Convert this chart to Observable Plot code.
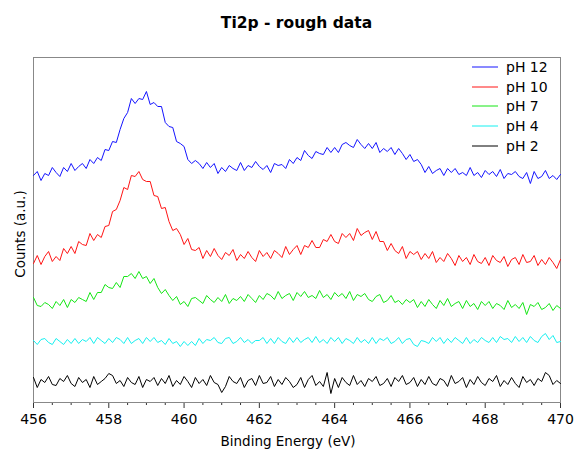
<!DOCTYPE html>
<html>
<head>
<meta charset="utf-8">
<script src="https://cdn.jsdelivr.net/npm/d3@7"></script>
<script src="https://cdn.jsdelivr.net/npm/@observablehq/plot@0.6"></script>
<style>
  html, body { margin: 0; padding: 0; background: #fff; }
  #wrap { position: relative; width: 574px; height: 449px; font-family: "DejaVu Sans", sans-serif; }
  #title { height: 40px; line-height: 46px; padding: 0 14px 0 33px; text-align: center; font-weight: bold; font-size: 15.5px; color: #000; box-sizing: border-box; }
  #legend { position: absolute; top: 57px; left: 470px; font-size: 14px; color: #000; }
  #legend .row { display: flex; align-items: center; height: 19.75px; }
  #legend svg { width: 30px; height: 4px; margin-right: 6px; }
  svg.plot { display: block; }
</style>
</head>
<body>
<div id="wrap">
  <div id="title">Ti2p - rough data</div>
  <div id="chart"></div>
  <div id="legend"></div>
</div>
<script>
const seriesNames = ["pH 12", "pH 10", "pH 7", "pH 4", "pH 2"];
const seriesColors = ["#1414ff", "#ff1414", "#14e614", "#14f0f0", "#000000"];
const xTicks = [456, 458, 460, 462, 464, 466, 468, 470];
const xMinorTicks = [456.5, 457, 457.5, 458.5, 459, 459.5, 460.5, 461, 461.5, 462.5, 463, 463.5, 464.5, 465, 465.5, 466.5, 467, 467.5, 468.5, 469, 469.5];
const xLabel = "Binding Energy (eV)";
const yLabel = "Counts (a.u.)";

// sampling grid: 456.0 .. 470.0 eV, 0.1 eV steps
const energy = d3.range(141).map(i => +(456 + i * 0.1).toFixed(1));

const pH12 = [
225,229,220,227,225,233,228,224,233,229,
237,230,234,237,232,241,237,243,240,251,
250,259,258,271,282,288,302,297,302,301,
309,296,298,294,294,278,274,273,259,257,
254,241,237,240,237,232,238,233,237,227,
233,229,235,232,230,238,230,235,233,239,
234,231,235,228,237,235,236,232,241,237,
243,240,250,245,242,249,247,246,253,248,
253,248,256,258,255,253,261,256,252,257,
252,258,248,252,249,253,246,252,247,241,
246,239,241,236,228,234,227,230,232,225,
232,228,232,226,228,225,233,225,228,223,
230,226,229,224,231,222,227,226,229,224,
222,228,217,229,222,224,230,222,225,221,
226];

const pH10 = [
137,145,136,144,149,139,144,140,152,147,
154,147,159,156,155,167,160,166,163,174,
175,189,191,200,213,211,225,224,229,221,
219,219,205,204,192,193,179,170,172,166,
156,162,151,150,153,142,150,144,152,145,
141,148,145,151,140,146,142,149,143,139,
150,144,148,142,150,147,143,154,146,151,
155,146,155,153,160,153,153,161,159,166,
159,157,167,163,167,160,172,165,168,170,
161,169,159,159,150,157,150,147,154,142,
149,146,149,141,147,142,149,138,143,139,
147,142,135,145,139,143,136,146,139,137,
143,135,145,140,138,144,134,141,143,136,
146,138,139,145,135,141,136,143,138,132,
141];

const pH7 = [
103,95,94,98,96,92,99,95,101,93,
101,98,103,101,99,108,101,108,108,116,
113,112,118,113,124,124,127,122,129,122,
124,117,122,113,107,111,105,100,104,96,
99,94,102,103,100,97,105,101,98,103,
99,106,97,102,100,104,99,106,102,98,
105,101,107,105,101,109,102,105,107,100,
108,104,109,103,105,102,110,103,106,101,
108,104,107,102,109,100,106,104,107,101,
99,104,106,98,100,105,98,100,96,101,
98,101,93,99,94,101,96,92,100,95,
102,94,97,99,92,100,94,97,91,99,
95,99,92,97,95,91,100,93,96,92,
98,86,96,94,98,91,93,97,90,95,
92];

const pH4 = [
60,56,61,62,58,56,62,59,56,61,
57,62,57,61,59,63,57,63,60,57,
62,58,63,61,57,63,57,60,62,57,
63,59,63,58,60,56,62,57,59,54,
59,55,59,55,62,57,61,60,63,58,
57,62,63,57,59,63,58,61,57,60,
60,63,57,62,57,63,59,57,63,58,
63,58,61,63,58,64,58,61,57,63,
59,63,57,62,60,57,63,58,61,57,
63,57,62,60,63,57,59,63,57,61,
62,56,54,60,59,57,63,59,63,57,
62,58,63,60,57,63,57,61,58,63,
60,58,63,58,64,61,62,58,64,59,
63,58,64,60,58,64,67,61,65,58,
59];

const pH2 = [
23,13,21,18,24,16,15,22,19,25,
17,14,23,18,21,13,24,16,19,22,
27,25,17,20,14,23,18,16,24,13,
21,19,23,15,22,17,25,14,20,16,
24,19,13,23,17,21,15,25,18,16,
8,14,24,19,17,23,13,20,22,15,
25,17,18,24,14,21,16,23,19,13,
16,23,13,21,25,15,19,14,28,7,
22,13,23,18,15,25,16,20,14,22,
19,24,15,17,22,14,23,19,25,16,
18,23,14,21,16,24,17,15,22,20,
14,25,17,19,23,13,21,16,24,18,
15,22,19,25,14,20,16,23,17,13,
24,18,21,15,22,19,28,25,16,20,
17];

const seriesValues = [pH12, pH10, pH7, pH4, pH2];
const rows = [];
seriesNames.forEach((name, s) => {
  seriesValues[s].forEach((v, i) => rows.push({series: name, energy: energy[i], counts: v}));
});

const chart = Plot.plot({
  width: 574,
  height: 409,
  marginTop: 17,
  marginBottom: 47,
  marginLeft: 33,
  marginRight: 14,
  x: {domain: [456, 470]},
  y: {domain: [-2, 343], axis: null},
  color: {domain: seriesNames, range: seriesColors},
  style: {fontFamily: "DejaVu Sans", fontSize: "14px", color: "#000", background: "#fff", overflow: "visible"},
  marks: [
    Plot.axisX(xMinorTicks, {tickSize: 3, tickFormat: () => "", label: null, stroke: "#333"}),
    Plot.axisX(xTicks, {tickSize: 6, tickPadding: 6, label: null, tickFormat: d => String(d), stroke: "#333", fontSize: 14}),
    Plot.frame({stroke: "#888"}),
    Plot.line(rows, {x: "energy", y: "counts", z: "series", stroke: "series", strokeWidth: 1}),
    Plot.text([xLabel], {frameAnchor: "bottom", lineAnchor: "middle", textAnchor: "middle", dx: -9, dy: 39, text: d => d, fontSize: 13.5}),
    Plot.text([yLabel], {frameAnchor: "left", textAnchor: "middle", lineAnchor: "middle", rotate: -90, dx: -13, dy: 4, text: d => d, fontSize: 13.5})
  ]
});
document.getElementById("chart").appendChild(chart);

const legend = document.getElementById("legend");
seriesNames.forEach((name, i) => {
  const row = document.createElement("div");
  row.className = "row";
  row.innerHTML = `<svg viewBox="0 0 30 4"><line x1="2" y1="2" x2="28" y2="2" stroke="${seriesColors[i]}" stroke-width="1"/></svg><span>${name}</span>`;
  legend.appendChild(row);
});
</script>
</body>
</html>
